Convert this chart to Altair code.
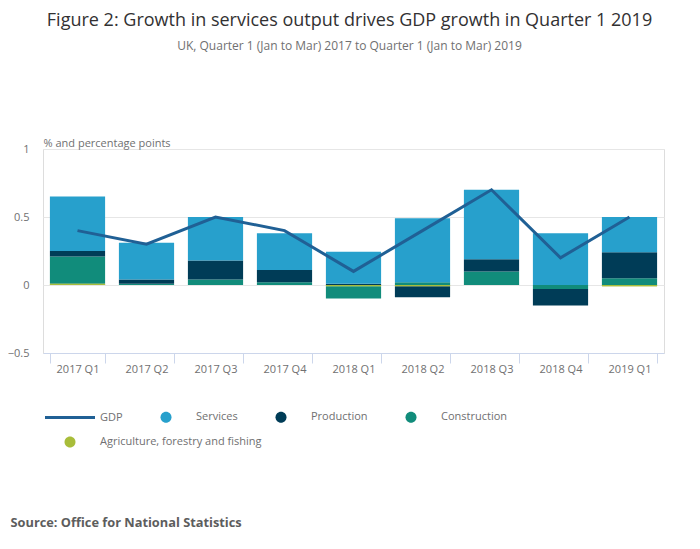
import altair as alt
import pandas as pd

quarters = ["2017 Q1", "2017 Q2", "2017 Q3", "2017 Q4", "2018 Q1",
            "2018 Q2", "2018 Q3", "2018 Q4", "2019 Q1"]
gdp = [0.4, 0.3, 0.5, 0.4, 0.1, 0.4, 0.7, 0.2, 0.5]
services = [0.40, 0.27, 0.32, 0.27, 0.235, 0.47, 0.51, 0.38, 0.26]
production = [0.04, 0.03, 0.14, 0.09, 0.01, -0.08, 0.09, -0.12, 0.19]
construction = [0.20, 0.01, 0.04, 0.02, -0.09, 0.02, 0.10, -0.03, 0.05]
agriculture = [0.01, 0.0, 0.0, 0.0, -0.01, -0.01, 0.0, 0.0, -0.01]

AGRI = "Agriculture, forestry and fishing"
series_names = ["GDP", "Services", "Production", "Construction", AGRI]
series_colors = ["#206095", "#27a0cc", "#003c57", "#118c7b", "#a8bd3a"]

rows = []
for name, vals, order in [(AGRI, agriculture, 0),
                          ("Construction", construction, 1),
                          ("Production", production, 2),
                          ("Services", services, 3)]:
    for q, v in zip(quarters, vals):
        rows.append({"quarter": q, "series": name, "value": v, "ord": order})
bars_df = pd.DataFrame(rows)
agri_df = bars_df[bars_df["series"] == AGRI]
gdp_df = pd.DataFrame({"quarter": quarters, "gdp": gdp})

FONT = "Open Sans"
LINE_SYMBOL = "M-1,-0.06H1V0.06H-1Z"
DOT_SYMBOL = "M-0.22,0A0.22,0.22,0,1,1,0.22,0A0.22,0.22,0,1,1,-0.22,0Z"

legend_common = dict(
    title=None, orient="none", direction="horizontal",
    symbolSize=2500, symbolStrokeWidth=0, labelOffset=5, columnPadding=18,
    labelFont=FONT, labelFontSize=11, labelColor="#707071",
    labelLimit=400, padding=0,
)

x_enc = alt.X(
    "quarter:N",
    sort=quarters,
    scale=alt.Scale(paddingInner=0.2, paddingOuter=0.1),
    axis=alt.Axis(
        title="Source: Office for National Statistics",
        titleFont=FONT, titleFontSize=12.8, titleFontWeight="bold",
        titleColor="#5d5d5d", titleAnchor="start", titleAlign="left",
        titleX=-33, titleY=169, titleBaseline="middle",
        labelAngle=0, labelFont=FONT, labelFontSize=11, labelColor="#707071",
        labelPadding=0, tickBand="extent", tickSize=10, tickColor="#ccd6eb",
        domainColor="#ccd6eb", grid=False,
    ),
)

y_scale = alt.Scale(domain=[-0.5, 1], nice=False)
y_axis = alt.Axis(
    values=[-0.5, 0, 0.5, 1], format="~g",
    title="% and percentage points", titleAngle=0,
    titleFont=FONT, titleFontSize=11, titleFontWeight="normal",
    titleColor="#707071", titleAlign="left", titleAnchor="end",
    titleX=0, titleY=-1, titleBaseline="bottom",
    labelFont=FONT, labelFontSize=11, labelColor="#707071",
    labelPadding=14, domain=False, ticks=False,
    grid=True, gridColor="#e6e6e6",
)

bars = alt.Chart(bars_df).mark_bar().encode(
    x=x_enc,
    y=alt.Y("value:Q", stack="zero", scale=y_scale, axis=y_axis),
    color=alt.Color(
        "series:N",
        scale=alt.Scale(domain=series_names, range=series_colors),
        legend=alt.Legend(
            values=series_names[:4], legendX=2, legendY=243,
            symbolType={"expr": f"datum.value === 'GDP' ? '{LINE_SYMBOL}' : '{DOT_SYMBOL}'"},
            **legend_common,
        ),
    ),
    order=alt.Order("ord:Q", sort="ascending"),
)

agri = alt.Chart(agri_df).mark_bar().encode(
    x=alt.X("quarter:N", sort=quarters),
    y=alt.Y("value:Q", stack="zero", scale=y_scale),
    color=alt.Color(
        "series:N",
        scale=alt.Scale(domain=[AGRI], range=[series_colors[4]]),
        legend=alt.Legend(
            legendX=2, legendY=268, symbolType=DOT_SYMBOL, **legend_common,
        ),
    ),
)

line = alt.Chart(gdp_df).mark_line(color="#206095", strokeWidth=3).encode(
    x=alt.X("quarter:N", sort=quarters),
    y=alt.Y("gdp:Q", scale=y_scale),
)

chart = alt.layer(bars, agri, line).resolve_scale(color="independent").properties(
    width=621, height=204,
    autosize=alt.AutoSizeParams(type="none"),
    padding={"left": 35, "top": 141, "right": 28, "bottom": 185},
    title=alt.TitleParams(
        text="Figure 2: Growth in services output drives GDP growth in Quarter 1 2019",
        subtitle="UK, Quarter 1 (Jan to Mar) 2017 to Quarter 1 (Jan to Mar) 2019",
        font=FONT, fontSize=18, fontWeight="normal", color="#323132",
        subtitleFont=FONT, subtitleFontSize=12, subtitleColor="#707071",
        subtitlePadding=11, anchor="middle", frame="group", offset=85, dx=-4,
    ),
).configure_view(strokeWidth=0).configure(background="white")

chart.save("out.html", embed_options={"renderer": "svg", "actions": False})
